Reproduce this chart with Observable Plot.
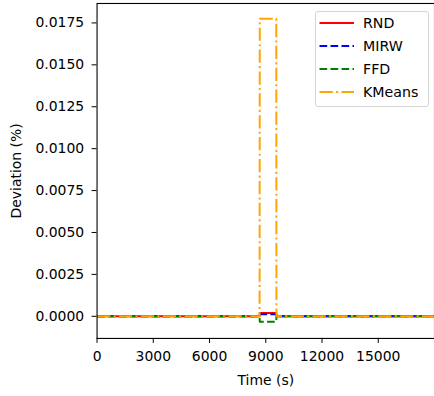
<!DOCTYPE html>
<html><head><meta charset="utf-8">
<script src="https://cdn.jsdelivr.net/npm/d3@7"></script>
<script src="https://cdn.jsdelivr.net/npm/@observablehq/plot@0.6"></script>
<style>
html,body{margin:0;padding:0;overflow:hidden;background:#fff;}
#wrap{position:relative;width:434px;height:396px;overflow:hidden;font-family:"DejaVu Sans",sans-serif;}
#legend{position:absolute;left:315px;top:11px;width:114px;height:96px;border:1px solid #d4d4d4;border-radius:3px;background:rgba(255,255,255,0.8);box-sizing:border-box;}
.row{position:absolute;left:0;height:20px;font-size:14.2px;color:#000;line-height:20px;}
</style></head><body><div id="wrap"></div>
<script>
const seriesNames = ["RND", "MIRW", "FFD", "KMeans"];
const seriesColors = ["red", "blue", "green", "orange"];
const seriesDash = ["none", "7.7,3.3", "7.7,3.3", "13.3,3.3,2.1,3.3"];
const times = [0, 8670, 8680, 9560, 9570, 18500];
const rnd = [0, 0, 0.0002, 0.0002, 0, 0];
const mirw = [0, 0, 0.00012, 0.00012, 0, 0];
const ffd = [0, 0, -0.00032, -0.00032, 0, 0];
const kmeans = [0, 0, 0.01775, 0.01775, 0, 0];
const xTicks = [0, 3000, 6000, 9000, 12000, 15000];
const yTicks = [0, 0.0025, 0.005, 0.0075, 0.01, 0.0125, 0.015, 0.0175];

const seriesValues = [rnd, mirw, ffd, kmeans];
const lineMarks = seriesValues.map((vals, k) => Plot.line(times, {
  x: d => d,
  y: (d, i) => vals[i],
  stroke: seriesColors[k],
  strokeWidth: 2,
  strokeDasharray: seriesDash[k],
  strokeLinecap: "butt",
  strokeLinejoin: "round",
  clip: true
}));

const chart = Plot.plot({
  width: 436,
  height: 396,
  marginLeft: 97,
  marginRight: 0,
  marginTop: 3,
  marginBottom: 56.5,
  style: {fontFamily: "DejaVu Sans", fontSize: "13.9px", color: "black", background: "white", overflow: "visible"},
  x: {domain: [0, 18000]},
  y: {domain: [-0.00132, 0.01866]},
  marks: [
    ...lineMarks,
    Plot.frame({stroke: "black", strokeWidth: 1.1}),
    Plot.axisX({ticks: xTicks, tickFormat: d => String(d), tickSize: 5, tickPadding: 8, fontSize: 14,
      label: "Time (s)", labelAnchor: "center", labelOffset: 47, labelArrow: "none"}),
    Plot.axisY({ticks: yTicks, tickFormat: d => d.toFixed(4), tickSize: 5, tickPadding: 8, fontSize: 14,
      label: "Deviation (%)", labelAnchor: "center", labelOffset: 86, labelArrow: "none"})
  ]
});
const wrap = document.getElementById("wrap");
wrap.appendChild(chart);

// legend
const legend = document.createElement("div");
legend.id = "legend";
const rowTops = [22.7, 46, 69, 91.7];
seriesNames.forEach((name, k) => {
  const row = document.createElement("div");
  row.className = "row";
  row.style.top = (rowTops[k] - 11 - 1 - 10) + "px";
  row.innerHTML = `<svg width="40" height="20" style="position:absolute;left:2px;top:0"><line x1="1.5" x2="36" y1="10" y2="10" stroke="${seriesColors[k]}" stroke-width="2" stroke-dasharray="${seriesDash[k]}"/></svg><span style="position:absolute;left:47px;white-space:nowrap">${name}</span>`;
  legend.appendChild(row);
});
wrap.appendChild(legend);
</script></body></html>
